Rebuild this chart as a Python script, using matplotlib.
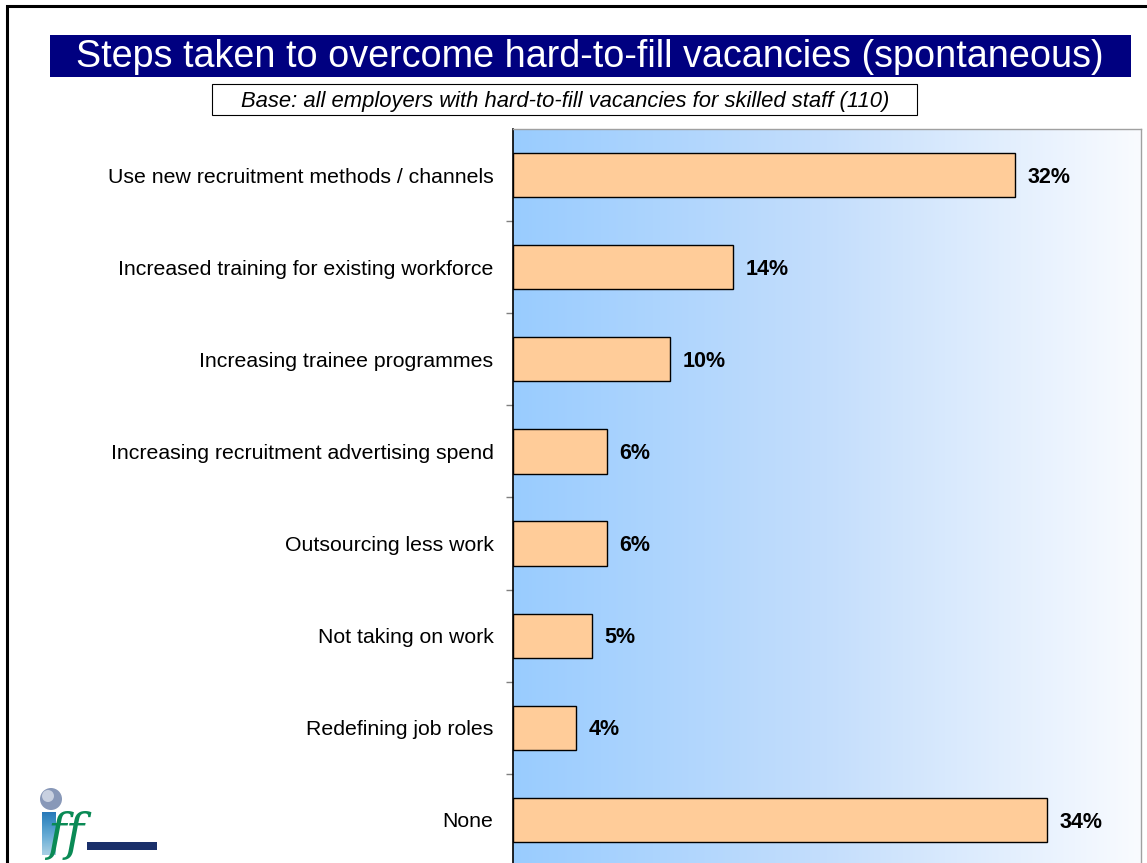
import matplotlib.pyplot as plt
from matplotlib.patches import Rectangle, Circle
from matplotlib.colors import LinearSegmentedColormap
import numpy as np

plt.rcParams['font.family'] = ['Liberation Sans', 'DejaVu Sans']

# data
steps = ['Use new recruitment methods / channels',
         'Increased training for existing workforce',
         'Increasing trainee programmes',
         'Increasing recruitment advertising spend',
         'Outsourcing less work',
         'Not taking on work',
         'Redefining job roles',
         'None']
percents = [32, 14, 10, 6, 6, 5, 4, 34]

title = 'Steps taken to overcome hard-to-fill vacancies (spontaneous)'
base_note = 'Base: all employers with hard-to-fill vacancies for skilled staff (110)'

W, H = 1147, 863
fig = plt.figure(figsize=(W / 100, H / 100), dpi=100)
fig.patch.set_facecolor('white')

# background layer in pixel coordinates: frame, title boxes, logo
bg = fig.add_axes([0, 0, 1, 1])
bg.set_xlim(0, W)
bg.set_ylim(H, 0)
bg.axis('off')
bg.plot([7, 7, W + 5], [H + 5, 6, 6], color='black', lw=2.2, solid_joinstyle='miter')

bg.add_patch(Rectangle((50, 35), 1081, 42, facecolor='#000080', edgecolor='none'))
bg.text(590, 57, title, color='white', fontsize=27.2, ha='center', va='center')

bg.add_patch(Rectangle((212, 84), 705, 31, facecolor='white', edgecolor='black', lw=0.8))
bg.text(565, 101, base_note, fontsize=15.8, style='italic', ha='center', va='center')

# rough iff logo
bg.add_patch(Circle((51, 799), 11, facecolor='#8898b8', edgecolor='none'))
bg.add_patch(Circle((48, 796), 6, facecolor='#c8d0e0', edgecolor='none'))
stem = np.linspace(0.85, 0.25, 64).reshape(-1, 1)
bg.imshow(stem, extent=(42, 56, 855, 812), cmap='Blues', vmin=-0.3, vmax=1.3,
          aspect='auto', zorder=2)
bg.add_patch(Rectangle((87, 842), 70, 8, facecolor='#1a2f6a', edgecolor='none', zorder=2))
bg.text(47, 860, 'ff', color='#0a8a55', fontsize=36, style='italic',
        ha='left', va='bottom', family='DejaVu Serif', zorder=3)

# chart
ax = fig.add_axes([513 / W, (H - 866) / H, (1141 - 513) / W, (866 - 129) / H])
ax.set_xlim(0, 40)
ax.set_ylim(len(steps) - 0.5, -0.5)

grad = np.linspace(0, 1, 256).reshape(1, -1)
bg_cmap = LinearSegmentedColormap.from_list('bg', ['#99ccff', '#c4defc', '#f9fbff'])
ax.imshow(grad, extent=(0, 40, len(steps) - 0.5, -0.5), cmap=bg_cmap,
          aspect='auto', zorder=0)

y = np.arange(len(steps))
bars = ax.barh(y, percents, height=0.48, color='#ffcc99', edgecolor='black',
               linewidth=1, zorder=2)
for b, v in zip(bars, percents):
    ax.annotate(f'{v}%', (b.get_width(), b.get_y() + b.get_height() / 2),
                xytext=(9, -1.5), textcoords='offset points', va='center',
                ha='left', fontsize=15.5, fontweight='bold')

ax.set_yticks(y)
ax.set_yticklabels(steps, fontsize=15.3)
ax.tick_params(axis='y', which='major', length=0, pad=14)
ax.set_yticks(np.arange(0.5, len(steps) - 1), minor=True)
ax.tick_params(axis='y', which='minor', length=5, color='#808080', width=1)
ax.set_xticks([])

for side in ('top', 'right'):
    ax.spines[side].set_color('#a0a0a0')
    ax.spines[side].set_linewidth(1)
ax.spines['left'].set_color('black')
ax.spines['left'].set_linewidth(1.2)
ax.spines['bottom'].set_visible(False)

fig.savefig('out.png', dpi=100)
